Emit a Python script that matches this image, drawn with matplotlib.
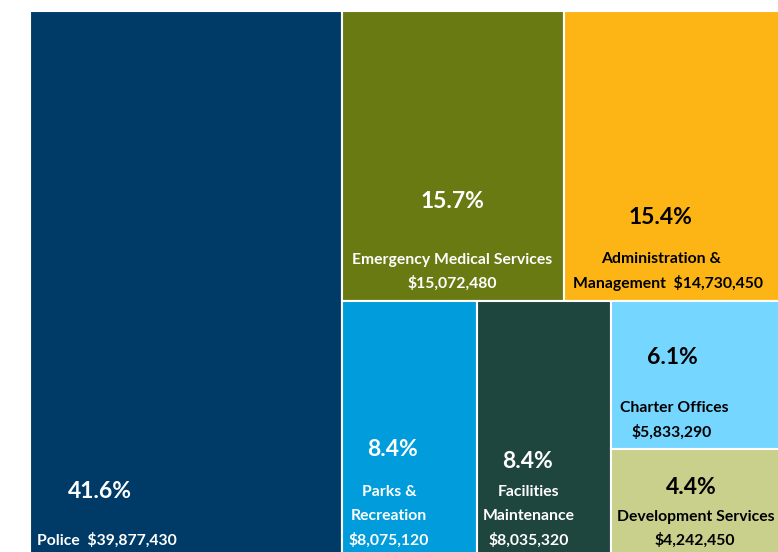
import matplotlib.pyplot as plt
from matplotlib.patches import Rectangle

# departments and budgets
names = ["Police", "Emergency Medical Services", "Administration & Management",
         "Parks & Recreation", "Facilities Maintenance", "Charter Offices",
         "Development Services"]
budgets = [39877430, 15072480, 14730450, 8075120, 8035320, 5833290, 4242450]
colors = ["#003B67", "#697A12", "#FDB515", "#009CDC", "#1E453E", "#75D6FF", "#C8D08C"]
text_colors = ["white", "white", "black", "white", "white", "black", "black"]

plt.rcParams['font.family'] = ['Lato', 'DejaVu Sans']
plt.rcParams['font.weight'] = 'bold'


def layout(vals, x0, y0, x1, y1):
    """Slice the box: first item full height on the left, then a top row of two,
    then a bottom row of two plus a column of two."""
    total = sum(vals)
    W, H = x1 - x0, y1 - y0
    rects = []
    w0 = W * vals[0] / total
    rects.append((x0, y0, w0, H))
    rx, rw = x0 + w0, W - w0
    rest = total - vals[0]
    top = vals[1] + vals[2]
    th = H * top / rest
    wa = rw * vals[1] / top
    rects.append((rx, y0, wa, th))
    rects.append((rx + wa, y0, rw - wa, th))
    by, bh = y0 + th, H - th
    bottom = rest - top
    cx = rx
    for v in vals[3:5]:
        w = rw * v / bottom
        rects.append((cx, by, w, bh))
        cx += w
    cw = x0 + W - cx
    col = vals[5] + vals[6]
    h5 = bh * vals[5] / col
    rects.append((cx, by, cw, h5))
    rects.append((cx, by + h5, cw, bh - h5))
    return rects


fig = plt.figure(figsize=(7.78, 5.52), dpi=100)
ax = fig.add_axes([0, 0, 1, 1])
ax.set_xlim(0, 778)
ax.set_ylim(552, 0)
ax.axis('off')

rects = layout(budgets, 30, 11, 780, 556)
for (x, y, w, h), c in zip(rects, colors):
    ax.add_patch(Rectangle((x, y), w, h, facecolor=c, edgecolor='white', linewidth=1.5))

total = sum(budgets)
pcts = ["%.1f%%" % (100 * b / total) for b in budgets]
money = ["${:,}".format(b) for b in budgets]

# percent label spots and the text lines under them
pct_pos = [(100, 492), (453, 202), (661, 217), (393, 449), (528, 462), (672, 357), (691, 488)]
label_lines = [
    [(37, 540, "Police  " + money[0], 'left')],
    [(452, 260, "Emergency Medical Services", 'center'), (452, 283, money[1], 'center')],
    [(661, 259, "Administration &", 'center'), (668, 283, "Management  " + money[2], 'center')],
    [(389, 492, "Parks &", 'center'), (389, 516, "Recreation", 'center'), (389, 540, money[3], 'center')],
    [(529, 492, "Facilities", 'center'), (529, 516, "Maintenance", 'center'), (529, 540, money[4], 'center')],
    [(674, 408, "Charter Offices", 'center'), (672, 432, money[5], 'center')],
    [(696, 517, "Development Services", 'center'), (695, 540, money[6], 'center')],
]

for i in range(len(names)):
    px, py = pct_pos[i]
    ax.text(px, py, pcts[i], color=text_colors[i], fontsize=16.5, fontweight='bold',
            ha='center', va='center')
    for lx, ly, s, ha in label_lines[i]:
        ax.text(lx, ly, s, color=text_colors[i], fontsize=11.3, fontweight='bold',
                ha=ha, va='center')

fig.savefig("out.png", dpi=100)
